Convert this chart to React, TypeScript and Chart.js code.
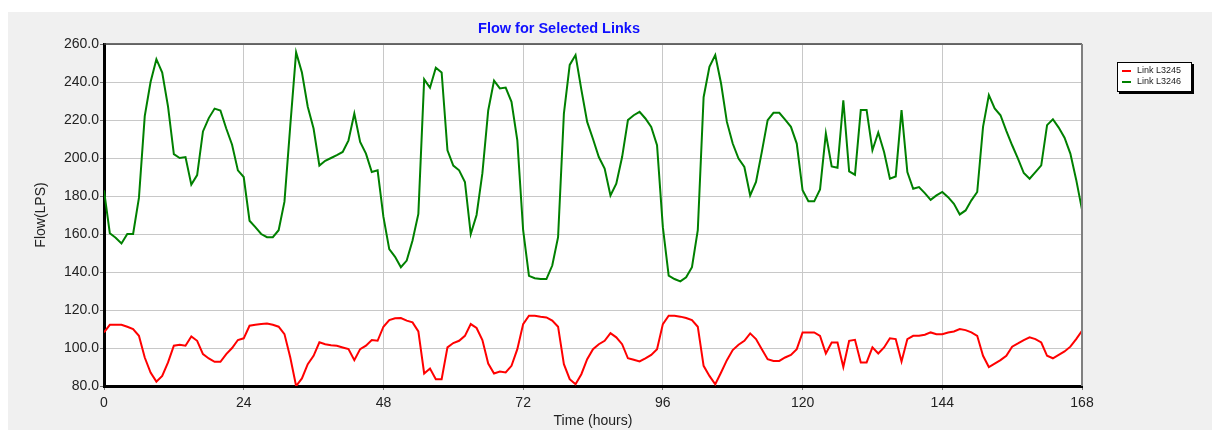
import React, { useEffect, useRef } from "react";
import { Chart, registerables } from "chart.js";

Chart.register(...registerables);

// ---------- data ----------
const TITLE = "Flow for Selected Links";
const X_TITLE = "Time (hours)";
const Y_TITLE = "Flow(LPS)";
const SERIES_NAMES = ["Link L3245", "Link L3246"];
const SERIES_COLORS = ["#ff0000", "#008000"];

const HOURS: number[] = Array.from({ length: 169 }, (_, i) => i);
const X_MIN = 0;
const X_MAX = 168;
const X_STEP = 24;
const Y_MIN = 80;
const Y_MAX = 260;
const Y_STEP = 20;

const LINK_L3245 = [
  108.2, 112.2, 112.2, 112.2, 111.2, 110, 106.4, 95, 87.1, 82.3,
  85.3, 92.4, 101.2, 101.7, 101.2, 106.1, 103.8, 96.8, 94.5, 92.7,
  92.7, 96.8, 100, 104.2, 105.1, 111.7, 112.2, 112.6, 112.9, 112.2,
  111.2, 107.3, 95, 80, 84, 91.5, 95.9, 103, 102, 101.5,
  101.2, 100.3, 99.4, 93.6, 99.4, 101.2, 104.2, 103.8, 111.2, 114.7,
  115.6, 115.8, 114.4, 113.5, 108.7, 86.6, 89.2, 83.6, 83.6, 100.3,
  102.6, 103.8, 106.4, 112.6, 110.5, 104.2, 91.8, 86.6, 87.6, 87.1,
  90.6, 99.4, 112.6, 117, 117, 116.5, 116.1, 114.4, 111.2, 91.5,
  83.6, 80.9, 86.2, 94.1, 99.4, 102, 103.8, 107.8, 105.6, 102,
  94.6, 93.8, 92.9, 94.6, 96.4, 99.4, 112.6, 117, 117, 116.5,
  115.8, 114.7, 111.2, 90.6, 85.3, 80.9, 87.1, 93.6, 98.9, 101.7,
  103.8, 107.7, 104.7, 99.4, 94.1, 93.2, 93.2, 95, 96.4, 99.4,
  108.2, 108.2, 108.2, 106.4, 97.1, 102.9, 102.9, 90, 103.8, 104.3,
  92.4, 92.4, 100.3, 97.1, 100.3, 105.1, 104.7, 92.9, 104.7, 106.4,
  106.4, 107, 108.2, 107.3, 107.3, 108.2, 108.7, 110, 109.4, 108.2,
  106.4, 95.9, 90, 91.8, 93.6, 95.9, 100.7, 102.4, 104.2, 105.6,
  104.7, 102.9, 95.9, 94.6, 96.4, 98.2, 100.7, 104.7, 109.1,
];

const LINK_L3246 = [
  183, 160.4, 158, 155, 160, 160, 179, 222, 240, 252,
  245, 227, 202, 200, 200.5, 186, 191, 214, 221, 226,
  225, 215.5, 207, 193.5, 190, 167, 163.6, 160, 158.3, 158.3,
  162, 177, 217, 255.6, 245, 227, 215.5, 196, 198.5, 200,
  201.5, 203.2, 209.3, 223.4, 208.5, 202.3, 192.6, 193.5, 169, 152,
  148, 142.5, 146, 156.6, 170.6, 241.4, 237, 247.5, 245, 204,
  196, 193.5, 187.4, 160, 170, 192, 225, 240.7, 236.6, 237.1,
  229.6, 209.3, 162, 138, 136.7, 136.3, 136.3, 143.4, 158.3, 223.4,
  249, 254.2, 236, 219, 210, 200.5, 194.4, 180.3, 186.5, 200.5,
  220, 222.5, 224.3, 220.8, 216.4, 206.7, 163.6, 138.1, 136.3, 135.1,
  137.2, 142.5, 162, 232, 248, 254.2, 239.2, 219, 207.6, 199.7,
  195.3, 180.3, 187.4, 203.2, 219.9, 223.8, 223.8, 220.2, 216.4, 207.6,
  183, 177.2, 177.2, 183.5, 212.9, 195.6, 194.9, 230.4, 193, 191.2,
  225.2, 225.2, 204.1, 213.4, 203.2, 189.1, 190.3, 225.2, 192.6, 183.8,
  184.7, 181.5, 178, 180.3, 182.1, 179.4, 175.9, 170.3, 172.4, 177.7,
  182.1, 216.4, 233.1, 226.1, 222.5, 214.3, 206.7, 199.7, 192.1, 189.1,
  192.6, 196.1, 217.3, 220.4, 216, 210.7, 202.3, 188.6, 172.8,
];

// ---------- styles ----------
const FONT_FAMILY = '"Liberation Sans", Arial, sans-serif';
const TEXT_COLOR = "#222222";
const PANEL_BG = "#f0f0f0";

const plotBackground = {
  id: "plotBackground",
  beforeDraw(chart: any) {
    const { ctx, chartArea } = chart;
    ctx.save();
    ctx.fillStyle = "#ffffff";
    ctx.fillRect(chartArea.left, chartArea.top, chartArea.right - chartArea.left, chartArea.bottom - chartArea.top);
    ctx.restore();
  },
};

const frameAndText = {
  id: "frameAndText",
  afterDraw(chart: any) {
    const { ctx, chartArea } = chart;
    ctx.save();
    // top & right frame
    ctx.strokeStyle = "#404040";
    ctx.lineWidth = 1.5;
    ctx.beginPath();
    ctx.moveTo(chartArea.left, chartArea.top);
    ctx.lineTo(chartArea.right, chartArea.top);
    ctx.stroke();
    ctx.strokeStyle = "#808080";
    ctx.lineWidth = 2;
    ctx.beginPath();
    ctx.moveTo(chartArea.right, chartArea.top);
    ctx.lineTo(chartArea.right, chartArea.bottom);
    ctx.stroke();

    // title
    ctx.font = `bold 14.5px ${FONT_FAMILY}`;
    ctx.fillStyle = "#1010ff";
    ctx.textAlign = "center";
    ctx.textBaseline = "middle";
    ctx.fillText(TITLE, chartArea.left + 455, chartArea.top - 15);

    // legend
    const bx = chartArea.right + 35;
    const by = chartArea.top + 18;
    const bw = 75;
    const bh = 30;
    ctx.fillStyle = "#000000";
    ctx.fillRect(bx + 2, by + 2, bw, bh);
    ctx.fillStyle = "#ffffff";
    ctx.fillRect(bx, by, bw, bh);
    ctx.strokeStyle = "#000000";
    ctx.lineWidth = 1;
    ctx.strokeRect(bx + 0.5, by + 0.5, bw - 1, bh - 1);
    ctx.font = `9px ${FONT_FAMILY}`;
    ctx.textAlign = "left";
    ctx.textBaseline = "middle";
    chart.data.datasets.forEach((ds: any, i: number) => {
      const y = by + 9 + i * 11;
      ctx.strokeStyle = ds.borderColor;
      ctx.lineWidth = 2;
      ctx.beginPath();
      ctx.moveTo(bx + 5, y);
      ctx.lineTo(bx + 14, y);
      ctx.stroke();
      ctx.fillStyle = TEXT_COLOR;
      ctx.fillText(ds.label, bx + 20, y);
    });
    ctx.restore();
  },
};

export default function App() {
  const ref = useRef<HTMLCanvasElement | null>(null);

  useEffect(() => {
    document.body.style.margin = "0";
    if (!ref.current) return;
    const series = [LINK_L3245, LINK_L3246];
    const chart = new Chart(ref.current, {
      type: "line",
      data: {
        datasets: series.map((vals, i) => ({
          label: SERIES_NAMES[i],
          data: HOURS.map((h, k) => ({ x: h, y: vals[k] })),
          borderColor: SERIES_COLORS[i],
          backgroundColor: SERIES_COLORS[i],
          borderWidth: 2,
          pointRadius: 0,
          tension: 0,
          fill: false,
        })),
      },
      options: {
        responsive: false,
        animation: false,
        layout: { padding: { left: 0, top: 32, right: 130, bottom: 0 } },
        plugins: {
          legend: { display: false },
          title: { display: false },
          tooltip: { enabled: false },
        },
        scales: {
          x: {
            type: "linear",
            min: X_MIN,
            max: X_MAX,
            ticks: {
              stepSize: X_STEP,
              font: { family: FONT_FAMILY, size: 14 },
              color: TEXT_COLOR,
              padding: 5,
              maxRotation: 0,
            },
            grid: { color: "#c8c8c8", lineWidth: 1, tickLength: 4, tickColor: "#777777" },
            border: { color: "#000000", width: 3 },
            title: {
              display: true,
              text: X_TITLE,
              font: { family: FONT_FAMILY, size: 14 },
              color: TEXT_COLOR,
              padding: { top: 0, bottom: 0 },
            },
            afterFit: (s: any) => {
              s.height = 44;
            },
          },
          y: {
            min: Y_MIN,
            max: Y_MAX,
            ticks: {
              stepSize: Y_STEP,
              font: { family: FONT_FAMILY, size: 14 },
              color: TEXT_COLOR,
              padding: 1,
              callback: (v: any) => Number(v).toFixed(1),
            },
            grid: { color: "#c8c8c8", lineWidth: 1, tickLength: 4, tickColor: "#777777" },
            border: { color: "#000000", width: 3 },
            title: {
              display: true,
              text: Y_TITLE,
              font: { family: FONT_FAMILY, size: 14 },
              color: TEXT_COLOR,
              padding: { top: 25, bottom: 0 },
            },
            afterFit: (s: any) => {
              s.width = 96;
            },
          },
        },
      },
      plugins: [plotBackground, frameAndText],
    } as any);
    return () => chart.destroy();
  }, []);

  return (
    <div style={{ position: "relative", width: 1212, height: 430, background: "#ffffff", overflow: "hidden" }}>
      <div style={{ position: "absolute", left: 8, top: 12, width: 1204, height: 418, background: PANEL_BG }}>
        <canvas ref={ref} width={1204} height={418} style={{ display: "block", width: 1204, height: 418 }} />
      </div>
    </div>
  );
}
